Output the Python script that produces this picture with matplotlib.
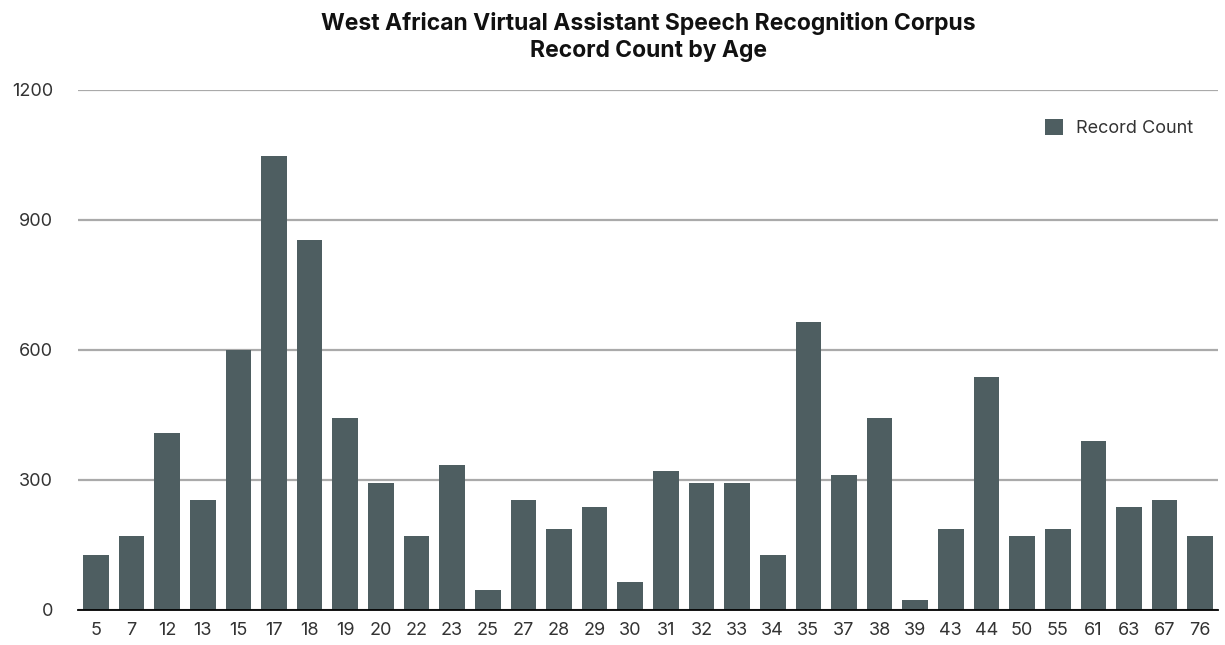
import matplotlib.pyplot as plt
import numpy as np

plt.rcParams['font.family'] = ['Inter', 'DejaVu Sans']

# Ages and record counts
ages = ['5', '7', '12', '13', '15', '17', '18', '19', '20', '22', '23', '25',
        '27', '28', '29', '30', '31', '32', '33', '34', '35', '37', '38', '39',
        '43', '44', '50', '55', '61', '63', '67', '76']
counts = [127, 171, 408, 253, 600, 1048, 854, 442, 292, 171, 335, 45,
          253, 186, 238, 65, 321, 292, 292, 127, 665, 312, 442, 22,
          186, 538, 171, 186, 389, 238, 253, 171]

bar_color = '#4e5e61'

fig = plt.figure(figsize=(12.25, 6.45), dpi=100)
ax = fig.add_axes([0.0637, 0.0543, 0.9306, 0.8062])

x = np.arange(len(ages))
ax.bar(x, counts, width=0.72, color=bar_color, label='Record Count', zorder=3)

ax.set_xlim(-0.5, len(ages) - 0.5)
ax.set_ylim(0, 1200)
ax.set_yticks([0, 300, 600, 900, 1200])
ax.set_xticks(x)
ax.set_xticklabels(ages)

ax.grid(axis='y', color='#aaaaaa', linewidth=1.6, zorder=0)
ax.set_axisbelow(True)
for side in ['top', 'right', 'left']:
    ax.spines[side].set_visible(False)
ax.spines['bottom'].set_color('black')
ax.spines['bottom'].set_linewidth(1.3)
ax.spines['bottom'].set_zorder(4)

ax.tick_params(axis='both', length=0, labelsize=13, colors='#333333')
ax.tick_params(axis='y', pad=18)
ax.tick_params(axis='x', pad=9)

# title centred over the plot area
fig.text(0.529, 0.982,
         'West African Virtual Assistant Speech Recognition Corpus\nRecord Count by Age',
         ha='center', va='top', fontsize=16.5, fontweight='bold', color='#111111',
         linespacing=1.32)

leg = ax.legend(loc='upper right', bbox_to_anchor=(0.992, 0.975), frameon=False,
                fontsize=13, handlelength=1.0, handleheight=1.0, handletextpad=0.7)
for t in leg.get_texts():
    t.set_color('#333333')

fig.savefig('out.png', dpi=100)
